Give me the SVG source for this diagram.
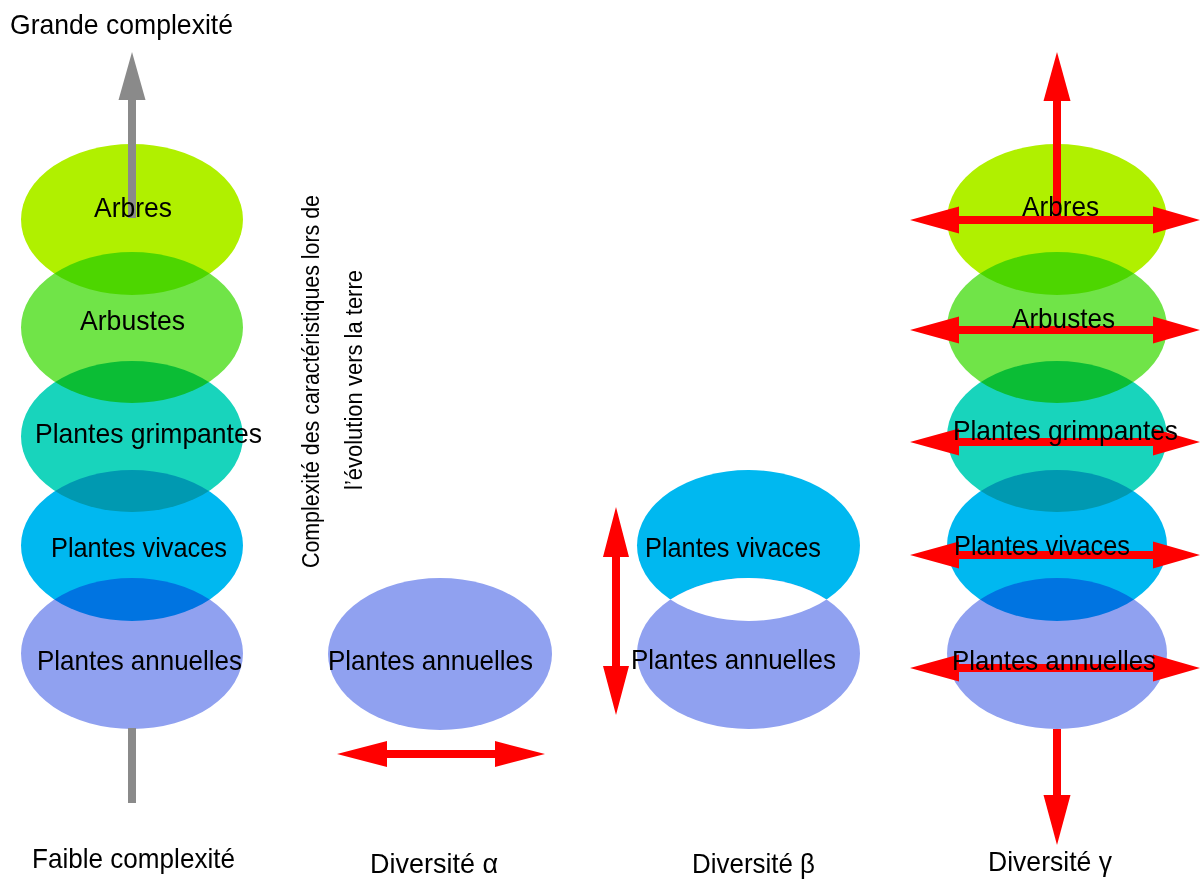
<svg xmlns="http://www.w3.org/2000/svg" width="1202" height="879" viewBox="0 0 1202 879">
<defs>
<style>
.e{mix-blend-mode:multiply}
.a1{fill:#b0f000}
.a2{fill:#70e448}
.a3{fill:#18d4bc}
.a4{fill:#00b8f0}
.a5{fill:#90a1f0}
.t{font-family:"Liberation Sans",Arial,sans-serif;font-size:28px;fill:#000}
.v{font-family:"Liberation Sans",Arial,sans-serif;font-size:23px;fill:#000}
.red{fill:#ff0000}
.gray{fill:#8a8a8a}
</style>
<clipPath id="clipViv"><ellipse cx="748.5" cy="545.5" rx="111.5" ry="75.5"/></clipPath>
</defs>
<rect width="1202" height="879" fill="#ffffff"/>

<g id="nodes">
  <g id="left-stack">
    <g id="l-arbres"><ellipse class="e a1" cx="132" cy="219.5" rx="111" ry="75.5"/></g>
    <g id="l-arbustes"><ellipse class="e a2" cx="132" cy="327.5" rx="111" ry="75.5"/></g>
    <g id="l-grimpantes"><ellipse class="e a3" cx="132" cy="436.5" rx="111" ry="75.5"/></g>
    <g id="l-vivaces"><ellipse class="e a4" cx="132" cy="545.5" rx="111" ry="75.5"/></g>
    <g id="l-annuelles"><ellipse class="e a5" cx="132" cy="653.5" rx="111" ry="75.5"/></g>
  </g>
  <g id="alpha">
    <g id="a-annuelles"><ellipse class="a5" cx="440" cy="654" rx="112" ry="76"/></g>
  </g>
  <g id="beta">
    <g id="b-vivaces"><ellipse class="a4" cx="748.5" cy="545.5" rx="111.5" ry="75.5"/></g>
    <g id="b-annuelles"><ellipse class="a5" cx="748.5" cy="653.5" rx="111.5" ry="75.5"/>
      <ellipse fill="#ffffff" cx="748.5" cy="653.5" rx="111.5" ry="75.5" clip-path="url(#clipViv)"/></g>
  </g>
  <g id="right-stack">
    <g id="r-arbres"><ellipse class="e a1" cx="1057" cy="219.5" rx="110" ry="75.5"/></g>
    <g id="r-arbustes"><ellipse class="e a2" cx="1057" cy="327.5" rx="110" ry="75.5"/></g>
    <g id="r-grimpantes"><ellipse class="e a3" cx="1057" cy="436.5" rx="110" ry="75.5"/></g>
    <g id="r-vivaces"><ellipse class="e a4" cx="1057" cy="545.5" rx="110" ry="75.5"/></g>
    <g id="r-annuelles"><ellipse class="e a5" cx="1057" cy="653.5" rx="110" ry="75.5"/></g>
  </g>
</g>

<g id="connectors">
  <g id="complexity-axis" class="gray">
    <rect x="128" y="99" width="8" height="119"/>
    <polygon points="132,52 145.5,100 118.5,100"/>
    <rect x="128" y="728" width="8" height="75"/>
  </g>
  <polygon id="alpha-arrow" class="red" points="337,754 387,741 387,750 495,750 495,741 545,754 495,767 495,758 387,758 387,767"/>
  <polygon id="beta-arrow" class="red" points="616,507 629,557 620,557 620,666 629,666 616,715 603,666 612,666 612,557 603,557"/>
  <g id="gamma-arrows" class="red">
    <rect x="1053" y="100" width="8" height="120"/>
    <polygon points="1057,52 1070.5,101 1043.5,101"/>
    <polygon points="910,220 959,206.5 959,216 1153,216 1153,206.5 1200,220 1153,233.5 1153,224 959,224 959,233.5"/>
    <polygon points="910,330 959,316.5 959,326 1153,326 1153,316.5 1200,330 1153,343.5 1153,334 959,334 959,343.5"/>
    <polygon points="910,442 959,428.5 959,438 1153,438 1153,428.5 1200,442 1153,455.5 1153,446 959,446 959,455.5"/>
    <polygon points="910,555 959,541.5 959,551 1153,551 1153,541.5 1200,555 1153,568.5 1153,559 959,559 959,568.5"/>
    <polygon points="910,668 959,654.5 959,664 1153,664 1153,654.5 1200,668 1153,681.5 1153,672 959,672 959,681.5"/>
    <rect x="1053" y="729" width="8" height="67"/>
    <polygon points="1043.5,795 1070.5,795 1057,845"/>
  </g>
</g>

<g id="labels">
  <text class="t" x="10" y="34" textLength="223" lengthAdjust="spacingAndGlyphs">Grande complexité</text>
  <text class="t" x="94" y="217" textLength="78" lengthAdjust="spacingAndGlyphs">Arbres</text>
  <text class="t" x="80" y="330" textLength="105" lengthAdjust="spacingAndGlyphs">Arbustes</text>
  <text class="t" x="35" y="443" textLength="227" lengthAdjust="spacingAndGlyphs">Plantes grimpantes</text>
  <text class="t" x="51" y="557" textLength="176" lengthAdjust="spacingAndGlyphs">Plantes vivaces</text>
  <text class="t" x="37" y="670" textLength="205" lengthAdjust="spacingAndGlyphs">Plantes annuelles</text>
  <text class="t" x="32" y="868" textLength="203" lengthAdjust="spacingAndGlyphs">Faible complexité</text>

  <text class="v" transform="translate(319,381.5) rotate(-90)" x="0" y="0" text-anchor="middle" textLength="373" lengthAdjust="spacingAndGlyphs">Complexité des caractéristiques lors de</text>
  <text class="v" transform="translate(362,380) rotate(-90)" x="0" y="0" text-anchor="middle" textLength="220" lengthAdjust="spacingAndGlyphs">l’évolution vers la terre</text>

  <text class="t" x="328" y="670" textLength="205" lengthAdjust="spacingAndGlyphs">Plantes annuelles</text>
  <text class="t" x="370" y="873" textLength="128" lengthAdjust="spacingAndGlyphs">Diversité α</text>

  <text class="t" x="645" y="557" textLength="176" lengthAdjust="spacingAndGlyphs">Plantes vivaces</text>
  <text class="t" x="631" y="669" textLength="205" lengthAdjust="spacingAndGlyphs">Plantes annuelles</text>
  <text class="t" x="692" y="873" textLength="123" lengthAdjust="spacingAndGlyphs">Diversité β</text>

  <text class="t" x="1022" y="216" textLength="77" lengthAdjust="spacingAndGlyphs">Arbres</text>
  <text class="t" x="1012" y="328" textLength="103" lengthAdjust="spacingAndGlyphs">Arbustes</text>
  <text class="t" x="953" y="440" textLength="225" lengthAdjust="spacingAndGlyphs">Plantes grimpantes</text>
  <text class="t" x="954" y="555" textLength="176" lengthAdjust="spacingAndGlyphs">Plantes vivaces</text>
  <text class="t" x="952" y="670" textLength="204" lengthAdjust="spacingAndGlyphs">Plantes annuelles</text>
  <text class="t" x="988" y="871" textLength="124" lengthAdjust="spacingAndGlyphs">Diversité γ</text>
</g>
</svg>
